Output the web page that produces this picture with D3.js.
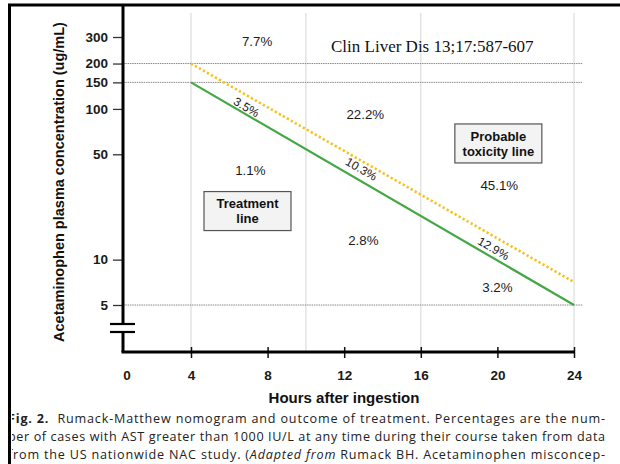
<!DOCTYPE html>
<html lang="en">
    <head>
        <meta charset="utf-8">
        <title>Rumack-Matthew nomogram</title>
        <script type="text/javascript" src="https://d3js.org/d3.v7.min.js"></script>
        <style type="text/css">
            body {
                margin: 0;
                background: #fff;
            }
            .tickLabel, .axis text {
                font-family: "Liberation Sans", Arial, sans-serif;
                font-weight: bold;
                font-size: 13.5px;
                fill: #1a1a1a;
            }
            .pct {
                font-family: "Liberation Sans", Arial, sans-serif;
                font-size: 13.3px;
                fill: #1a1a1a;
            }
            .boxText {
                font-family: "Liberation Sans", Arial, sans-serif;
                font-weight: bold;
                font-size: 13px;
                fill: #111;
            }
            .title {
                font-family: "Liberation Sans", Arial, sans-serif;
                font-weight: bold;
                fill: #111;
            }
            .caption {
                font-family: "Open Sans", "Noto Sans", sans-serif;
                font-size: 12.6px;
                fill: #222;
            }
        </style>
    </head>
    <body>
        <script type="text/javascript">
            var w = 620;
            var h = 464;

            // Datos
            var hours = [4, 24];
            var treatment = [150, 5];      // linea de tratamiento (verde)
            var toxicity = [200, 7.1];     // linea de toxicidad probable (amarilla)

            var xTicks = [4, 8, 12, 16, 20, 24];
            var yTicks = [300, 200, 150, 100, 50, 10, 5];
            var gridHours = [4, 10, 16, 24];
            var gridConc = [200, 150, 5];

            // Porcentajes por region (horas, concentracion)
            var regionPct = ["7.7%", "22.2%", "1.1%", "45.1%", "2.8%", "3.2%"];
            var regionHour = [7.45, 13.1, 7.1, 20.1, 13, 20];
            var regionConc = [280, 92, 39, 31, 13.5, 6.6];

            // Porcentajes sobre la linea de tratamiento
            var linePct = ["3.5%", "10.3%", "12.9%"];
            var linePctHour = [6.9, 12.9, 19.8];
            var linePctConc = [103, 40, 11.9];

            // Cajas de leyenda
            var boxLines = [["Treatment", "line"], ["Probable", "toxicity line"]];
            var boxHour = [6.95, 20.05];
            var boxConc = [21, 59];

            var captionLines = [
                [["Fig. 2.", "bold"], ["  Rumack-Matthew nomogram and outcome of treatment. Percentages are the num-", "normal"]],
                [["ber of cases with AST greater than 1000 IU/L at any time during their course taken from data", "normal"]],
                [["from the US nationwide NAC study. (", "normal"], ["Adapted from", "italic"], [" Rumack BH. Acetaminophen misconcep-", "normal"]]
            ];

            // Escalas
            var xScale = d3.scaleLinear().domain([4, 24]).range([191, 574]);
            var yScale = d3.scaleLog().domain([5, 300]).range([305, 37]);

            var svg = d3.select("body")
                        .append("svg")
                        .attr("width", w)
                        .attr("height", h);

            var x0 = 123;     // eje y
            var yAxisY = 352; // eje x

            // Rejilla vertical
            svg.selectAll(".vgrid")
                .data(gridHours)
                .enter()
                .append("line")
                .attr("x1", function(d){ return xScale(d); })
                .attr("x2", function(d){ return xScale(d); })
                .attr("y1", 13)
                .attr("y2", yAxisY)
                .attr("stroke", "#dcdcdc")
                .attr("stroke-width", 1.2);

            // Rejilla horizontal
            svg.selectAll(".hgrid")
                .data(gridConc)
                .enter()
                .append("line")
                .attr("x1", x0)
                .attr("x2", xScale(24) + 9)
                .attr("y1", function(d){ return yScale(d); })
                .attr("y2", function(d){ return yScale(d); })
                .attr("stroke", "#8a8a8a")
                .attr("stroke-width", 1)
                .attr("stroke-dasharray", "1.5,0.8");

            // Lineas
            var line = d3.line()
                        .x(function(d, i){ return xScale(hours[i]); })
                        .y(function(d){ return yScale(d); });

            svg.append("path")
                .datum(toxicity)
                .attr("fill", "none")
                .attr("stroke", "#f7c10f")
                .attr("stroke-width", 2.6)
                .attr("stroke-dasharray", "2.2,2.4")
                .attr("d", line);

            svg.append("path")
                .datum(treatment)
                .attr("fill", "none")
                .attr("stroke", "#43a843")
                .attr("stroke-width", 2.2)
                .attr("d", line);

            // Ejes
            var yAxis = d3.axisLeft(yScale)
                            .tickValues(yTicks)
                            .tickFormat(d3.format("d"))
                            .tickSize(10)
                            .tickPadding(5);
            var gy = svg.append("g")
                        .attr("class", "axis")
                        .attr("transform", "translate(" + x0 + ",0)")
                        .call(yAxis);
            gy.select(".domain").remove();
            gy.selectAll(".tick line").attr("stroke", "#333").attr("stroke-width", 1.3);

            var xAxis = d3.axisBottom(xScale)
                            .tickValues(xTicks)
                            .tickSize(6)
                            .tickPadding(12);
            var gx = svg.append("g")
                        .attr("class", "axis")
                        .attr("transform", "translate(0," + yAxisY + ")")
                        .call(xAxis);
            gx.select(".domain").remove();
            gx.selectAll(".tick line").attr("y1", -5).attr("stroke", "#111").attr("stroke-width", 1.5);

            // "0" en el origen (eje cortado)
            svg.append("text")
                .attr("class", "tickLabel")
                .attr("x", x0 + 4)
                .attr("y", yAxisY + 18)
                .attr("dy", "0.71em")
                .attr("text-anchor", "middle")
                .text("0");

            // Lineas de ejes con corte
            svg.append("line")
                .attr("x1", x0).attr("x2", x0)
                .attr("y1", 5).attr("y2", 324)
                .attr("stroke", "#000").attr("stroke-width", 3);
            svg.append("line")
                .attr("x1", x0).attr("x2", x0)
                .attr("y1", 332).attr("y2", yAxisY)
                .attr("stroke", "#000").attr("stroke-width", 3);
            svg.selectAll(".brk")
                .data([324, 332])
                .enter()
                .append("line")
                .attr("x1", 110).attr("x2", 135)
                .attr("y1", function(d){ return d; })
                .attr("y2", function(d){ return d; })
                .attr("stroke", "#000").attr("stroke-width", 2.2);
            svg.append("line")
                .attr("x1", x0 - 1.5).attr("x2", xScale(24) + 1)
                .attr("y1", yAxisY).attr("y2", yAxisY)
                .attr("stroke", "#000").attr("stroke-width", 3);

            // Porcentajes por region
            svg.selectAll(".region")
                .data(regionPct)
                .enter()
                .append("text")
                .attr("class", "pct")
                .attr("x", function(d, i){ return xScale(regionHour[i]); })
                .attr("y", function(d, i){ return yScale(regionConc[i]); })
                .attr("dy", "0.36em")
                .attr("text-anchor", "middle")
                .text(function(d){ return d; });

            // Angulo de la linea de tratamiento
            var ang = Math.atan2(yScale(treatment[1]) - yScale(treatment[0]),
                                 xScale(hours[1]) - xScale(hours[0])) * 180 / Math.PI;

            svg.selectAll(".onLine")
                .data(linePct)
                .enter()
                .append("text")
                .attr("class", "pct")
                .style("font-size", "12px")
                .attr("text-anchor", "middle")
                .attr("dy", "0.36em")
                .attr("transform", function(d, i){
                    return "translate(" + xScale(linePctHour[i]) + "," + yScale(linePctConc[i]) + ") rotate(" + ang + ")";
                })
                .text(function(d){ return d; });

            // Cajas
            var boxes = svg.selectAll(".box")
                            .data(boxLines)
                            .enter()
                            .append("g")
                            .attr("transform", function(d, i){
                                return "translate(" + xScale(boxHour[i]) + "," + yScale(boxConc[i]) + ")";
                            });
            boxes.append("rect")
                .attr("x", -43.5).attr("y", -19.5)
                .attr("width", 87).attr("height", 39)
                .attr("fill", "#f3f3f3")
                .attr("stroke", "#555")
                .attr("stroke-width", 1.2);
            boxes.selectAll("text")
                .data(function(d){ return d; })
                .enter()
                .append("text")
                .attr("class", "boxText")
                .attr("text-anchor", "middle")
                .attr("y", function(d, i){ return -7.5 + i * 15; })
                .attr("dy", "0.36em")
                .text(function(d){ return d; });

            // Referencia
            svg.append("text")
                .attr("x", 331)
                .attr("y", 52)
                .style("font-family", "'Liberation Serif', 'Times New Roman', serif")
                .style("font-size", "17px")
                .style("fill", "#111")
                .text("Clin Liver Dis 13;17:587-607");

            // Titulos de ejes
            svg.append("text")
                .attr("class", "title")
                .style("font-size", "14.5px")
                .attr("text-anchor", "middle")
                .attr("transform", "translate(64,182) rotate(-90)")
                .text("Acetaminophen plasma concentration (ug/mL)");

            svg.append("text")
                .attr("class", "title")
                .style("font-size", "15px")
                .attr("text-anchor", "middle")
                .attr("x", 344)
                .attr("y", 403)
                .text("Hours after ingestion");

            // Pie de figura (recortado a la izquierda)
            svg.append("clipPath")
                .attr("id", "capClip")
                .append("rect")
                .attr("x", 12).attr("y", 405)
                .attr("width", 608).attr("height", 60);

            var cap = svg.append("g").attr("clip-path", "url(#capClip)");
            captionLines.forEach(function(parts, i){
                var t = cap.append("text")
                            .attr("class", "caption")
                            .attr("x", 8)
                            .attr("y", 423 + i * 18)
                            .attr("textLength", 597)
                            .attr("lengthAdjust", "spacing")
                            .attr("xml:space", "preserve");
                parts.forEach(function(p){
                    t.append("tspan")
                        .style("font-weight", p[1] == "bold" ? "bold" : "normal")
                        .style("font-style", p[1] == "italic" ? "italic" : "normal")
                        .text(p[0]);
                });
            });

            // Marco
            svg.append("line")
                .attr("x1", 8).attr("x2", w)
                .attr("y1", 5).attr("y2", 5)
                .attr("stroke", "#000").attr("stroke-width", 3);
            svg.append("line")
                .attr("x1", 9.5).attr("x2", 9.5)
                .attr("y1", 4).attr("y2", h)
                .attr("stroke", "#000").attr("stroke-width", 3);
        </script>
    </body>
</html>
